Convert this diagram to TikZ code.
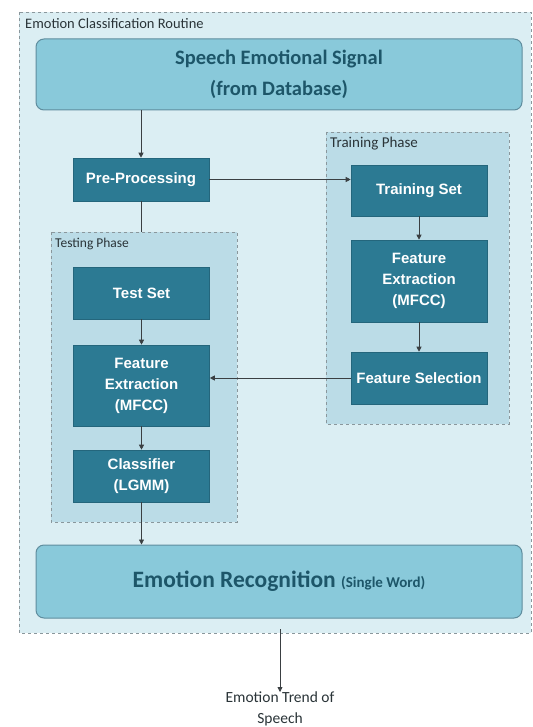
\documentclass[tikz,border=0pt]{standalone}
\usepackage{fontspec}
\setmainfont{Carlito}
\newfontfamily\arialfont{Liberation Sans}
\usetikzlibrary{arrows.meta}
\definecolor{outerfill}{HTML}{DBEEF3}
\definecolor{phasefill}{HTML}{BBDCE7}
\definecolor{bigfill}{HTML}{89C9DA}
\definecolor{bigdraw}{HTML}{5F8D9E}
\definecolor{bigtext}{HTML}{1D5669}
\definecolor{darkfill}{HTML}{2C7A93}
\definecolor{darkdraw}{HTML}{24667C}
\definecolor{dashc}{HTML}{8A979C}
\definecolor{linec}{HTML}{3A3F42}
\definecolor{labelc}{HTML}{2A3438}
\begin{document}
\begin{tikzpicture}[x=1pt,y=-1pt,
  outerbox/.style={draw=dashc, dashed, line width=0.7pt, fill=outerfill},
  phasebox/.style={draw=dashc, dashed, line width=0.8pt, fill=phasefill},
  bigbox/.style={draw=bigdraw, line width=1pt, fill=bigfill, rounded corners=8pt, text=bigtext, align=center, inner sep=0pt, minimum width=486pt},
  darkbox/.style={draw=darkdraw, line width=0.6pt, fill=darkfill, text=white, align=center, inner sep=0pt, minimum width=136pt, font=\arialfont\bfseries\fontsize{15}{21}\selectfont},
  lbl/.style={anchor=west, inner sep=0pt, text=labelc},
  conn/.style={draw=linec, line width=0.8pt},
  arr/.style={conn, -{Triangle[length=5pt,width=5pt]}}
]
\useasboundingbox (0,0) rectangle (532,727);
\fill[white] (0,0) rectangle (532,727);

% outer routine box
\path[outerbox] (19,12) rectangle (531,633);
\node[lbl, font=\fontsize{14.5}{16}\selectfont] (lblouter) at (25,24) {Emotion Classification Routine};

% phase boxes
\path[phasebox] (326,132) rectangle (509,424);
\node[lbl, font=\fontsize{15}{16}\selectfont] (lbltrain) at (330,144) {Training Phase};
\path[phasebox] (51,232) rectangle (237,522);
\node[lbl, font=\fontsize{13.5}{16}\selectfont] (lbltest) at (55,244) {Testing Phase};

% big boxes
\node[bigbox, minimum height=71pt, font=\bfseries\fontsize{20.5}{31}\selectfont] (sig) at (279,74.5) {Speech Emotional Signal\\(from Database)};
\node[bigbox, minimum height=73pt] (er) at (279,581.5) {\fontsize{23.5}{28}\selectfont\bfseries Emotion Recognition {\fontsize{15}{18}\selectfont (Single Word)}};

% dark boxes
\node[darkbox, minimum height=43pt] (pre) at (141,179.5) {Pre-Processing};
\node[darkbox, minimum height=51pt] (tset) at (419,190.5) {Training Set};
\node[darkbox, minimum height=82pt] (fe2) at (419,281) {Feature\\Extraction\\(MFCC)};
\node[darkbox, minimum height=52pt] (fs) at (419,378) {Feature Selection};
\node[darkbox, minimum height=52pt] (test) at (141.5,293) {Test Set};
\node[darkbox, minimum height=81pt] (fe1) at (141.5,385.5) {Feature\\Extraction\\(MFCC)};
\node[darkbox, minimum height=52pt] (cls) at (141.5,476) {Classifier\\(LGMM)};

% output text
\coordinate (outbot) at (280,629);
\node[align=center, inner sep=0pt, text=labelc, font=\fontsize{15.5}{21}\selectfont, anchor=north] (trend) at (280,692) {Emotion Trend of\\Speech};

% connectors
\draw[arr] (sig.south -| pre.north) -- (pre.north);
\draw[arr] (pre.east) -- (pre.east -| tset.west);
\draw[conn] (pre.south) -- (141,232);
\draw[arr] (tset.south) -- (fe2.north);
\draw[arr] (fe2.south) -- (fs.north);
\draw[arr] (fs.west) -- (fs.west -| fe1.east);
\draw[arr] (test.south) -- (fe1.north);
\draw[arr] (fe1.south) -- (cls.north);
\draw[arr] (cls.south) -- (cls.south |- er.north);
\draw[arr] (outbot) -- (trend.north);
\end{tikzpicture}
\end{document}
